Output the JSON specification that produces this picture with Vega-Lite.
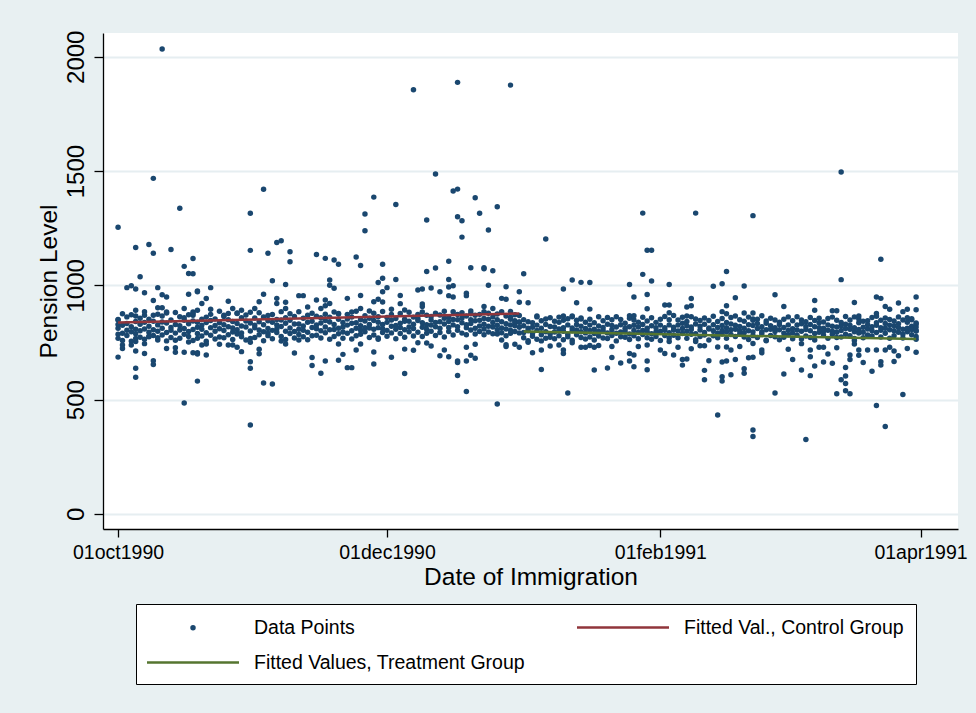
{
"$schema": "https://vega.github.io/schema/vega-lite/v6.json",
"width": 855, "height": 496,
"autosize": {"type": "none"},
"padding": {"left": 103, "top": 33, "right": 18, "bottom": 184},
"background": "#E8F0F2",
"title": {"text": "A. Natural Experiment B", "font": "Liberation Serif", "fontSize": 30, "fontWeight": "bold", "color": "black", "anchor": "middle", "baseline": "bottom", "offset": 23.5, "dx": -37},
"config": {
  "font": "Liberation Sans",
  "view": {"fill": "white", "stroke": null},
  "axis": {"domainColor": "black", "tickColor": "black", "labelColor": "black", "titleColor": "black", "titleFontWeight": "normal", "labelFont": "Liberation Sans", "titleFont": "Liberation Sans", "domainWidth": 1.3, "tickWidth": 1.3}
},
"datasets": {
"fit": [
{"s":"Fitted Val., Control Group","d":"1990-10-01","p":837},
{"s":"Fitted Val., Control Group","d":"1990-12-31","p":877},
{"s":"Fitted Values, Treatment Group","d":"1991-01-01","p":798},
{"s":"Fitted Values, Treatment Group","d":"1991-03-31","p":765}
],
"pts": [
{"d":"1990-10-01","p":812},{"d":"1990-10-01","p":768},{"d":"1990-10-01","p":851},{"d":"1990-10-01","p":829},{"d":"1990-10-01","p":1254},{"d":"1990-10-01","p":848},{"d":"1990-10-01","p":786},{"d":"1990-10-01","p":686},
{"d":"1990-10-02","p":790},{"d":"1990-10-02","p":876},{"d":"1990-10-02","p":825},{"d":"1990-10-02","p":759},{"d":"1990-10-02","p":739},{"d":"1990-10-02","p":724},
{"d":"1990-10-03","p":833},{"d":"1990-10-03","p":804},{"d":"1990-10-03","p":781},{"d":"1990-10-03","p":862},{"d":"1990-10-03","p":990},
{"d":"1990-10-04","p":756},{"d":"1990-10-04","p":819},{"d":"1990-10-04","p":871},{"d":"1990-10-04","p":797},{"d":"1990-10-04","p":998},{"d":"1990-10-04","p":739},
{"d":"1990-10-05","p":842},{"d":"1990-10-05","p":788},{"d":"1990-10-05","p":808},{"d":"1990-10-05","p":866},{"d":"1990-10-05","p":1166},{"d":"1990-10-05","p":984},{"d":"1990-10-05","p":891},{"d":"1990-10-05","p":768},{"d":"1990-10-05","p":754},{"d":"1990-10-05","p":713},{"d":"1990-10-05","p":637},{"d":"1990-10-05","p":598},
{"d":"1990-10-06","p":773},{"d":"1990-10-06","p":830},{"d":"1990-10-06","p":856},{"d":"1990-10-06","p":801},{"d":"1990-10-06","p":1038},
{"d":"1990-10-07","p":809},{"d":"1990-10-07","p":884},{"d":"1990-10-07","p":764},{"d":"1990-10-07","p":838},{"d":"1990-10-07","p":968},{"d":"1990-10-07","p":869},{"d":"1990-10-07","p":745},{"d":"1990-10-07","p":702},
{"d":"1990-10-08","p":852},{"d":"1990-10-08","p":795},{"d":"1990-10-08","p":821},{"d":"1990-10-08","p":777},{"d":"1990-10-08","p":1179},{"d":"1990-10-08","p":775},
{"d":"1990-10-09","p":781},{"d":"1990-10-09","p":843},{"d":"1990-10-09","p":869},{"d":"1990-10-09","p":806},{"d":"1990-10-09","p":1468},{"d":"1990-10-09","p":1140},{"d":"1990-10-09","p":934},{"d":"1990-10-09","p":670},{"d":"1990-10-09","p":654},
{"d":"1990-10-10","p":827},{"d":"1990-10-10","p":761},{"d":"1990-10-10","p":799},{"d":"1990-10-10","p":874},{"d":"1990-10-10","p":990},{"d":"1990-10-10","p":902},{"d":"1990-10-10","p":771},
{"d":"1990-10-11","p":866},{"d":"1990-10-11","p":812},{"d":"1990-10-11","p":783},{"d":"1990-10-11","p":840},{"d":"1990-10-11","p":2034},{"d":"1990-10-11","p":959},{"d":"1990-10-11","p":902},
{"d":"1990-10-12","p":794},{"d":"1990-10-12","p":835},{"d":"1990-10-12","p":757},{"d":"1990-10-12","p":879},{"d":"1990-10-12","p":949},{"d":"1990-10-12","p":883},{"d":"1990-10-12","p":724},
{"d":"1990-10-13","p":848},{"d":"1990-10-13","p":772},{"d":"1990-10-13","p":816},{"d":"1990-10-13","p":803},{"d":"1990-10-13","p":1157},
{"d":"1990-10-14","p":760},{"d":"1990-10-14","p":881},{"d":"1990-10-14","p":829},{"d":"1990-10-14","p":791},{"d":"1990-10-14","p":727},{"d":"1990-10-14","p":707},
{"d":"1990-10-15","p":823},{"d":"1990-10-15","p":805},{"d":"1990-10-15","p":863},{"d":"1990-10-15","p":769},{"d":"1990-10-15","p":1337},
{"d":"1990-10-16","p":786},{"d":"1990-10-16","p":847},{"d":"1990-10-16","p":811},{"d":"1990-10-16","p":858},{"d":"1990-10-16","p":1083},{"d":"1990-10-16","p":899},{"d":"1990-10-16","p":707},{"d":"1990-10-16","p":485},
{"d":"1990-10-17","p":871},{"d":"1990-10-17","p":798},{"d":"1990-10-17","p":776},{"d":"1990-10-17","p":832},{"d":"1990-10-17","p":1052},{"d":"1990-10-17","p":961},{"d":"1990-10-17","p":752},
{"d":"1990-10-18","p":807},{"d":"1990-10-18","p":759},{"d":"1990-10-18","p":844},{"d":"1990-10-18","p":883},{"d":"1990-10-18","p":1051},{"d":"1990-10-18","p":1117},{"d":"1990-10-18","p":869},{"d":"1990-10-18","p":877},{"d":"1990-10-18","p":705},
{"d":"1990-10-19","p":839},{"d":"1990-10-19","p":817},{"d":"1990-10-19","p":789},{"d":"1990-10-19","p":768},{"d":"1990-10-19","p":972},{"d":"1990-10-19","p":975},{"d":"1990-10-19","p":891},{"d":"1990-10-19","p":705},{"d":"1990-10-19","p":700},{"d":"1990-10-19","p":581},
{"d":"1990-10-20","p":778},{"d":"1990-10-20","p":852},{"d":"1990-10-20","p":826},{"d":"1990-10-20","p":808},{"d":"1990-10-20","p":921},{"d":"1990-10-20","p":739},
{"d":"1990-10-21","p":861},{"d":"1990-10-21","p":793},{"d":"1990-10-21","p":837},{"d":"1990-10-21","p":755},{"d":"1990-10-21","p":942},{"d":"1990-10-21","p":695},{"d":"1990-10-21","p":743},
{"d":"1990-10-22","p":815},{"d":"1990-10-22","p":873},{"d":"1990-10-22","p":782},{"d":"1990-10-22","p":846},{"d":"1990-10-22","p":990},{"d":"1990-10-22","p":895},
{"d":"1990-10-23","p":799},{"d":"1990-10-23","p":765},{"d":"1990-10-23","p":853},{"d":"1990-10-23","p":824},
{"d":"1990-10-24","p":836},{"d":"1990-10-24","p":887},{"d":"1990-10-24","p":810},{"d":"1990-10-24","p":774},{"d":"1990-10-24","p":742},
{"d":"1990-10-25","p":771},{"d":"1990-10-25","p":828},{"d":"1990-10-25","p":802},{"d":"1990-10-25","p":864},{"d":"1990-10-25","p":869},
{"d":"1990-10-26","p":850},{"d":"1990-10-26","p":784},{"d":"1990-10-26","p":819},{"d":"1990-10-26","p":877},{"d":"1990-10-26","p":930},{"d":"1990-10-26","p":739},
{"d":"1990-10-27","p":813},{"d":"1990-10-27","p":842},{"d":"1990-10-27","p":763},{"d":"1990-10-27","p":796},{"d":"1990-10-27","p":899},{"d":"1990-10-27","p":739},
{"d":"1990-10-28","p":879},{"d":"1990-10-28","p":806},{"d":"1990-10-28","p":833},{"d":"1990-10-28","p":787},{"d":"1990-10-28","p":877},{"d":"1990-10-28","p":729},
{"d":"1990-10-29","p":792},{"d":"1990-10-29","p":858},{"d":"1990-10-29","p":775},{"d":"1990-10-29","p":822},{"d":"1990-10-29","p":891},{"d":"1990-10-29","p":710},
{"d":"1990-10-30","p":844},{"d":"1990-10-30","p":818},{"d":"1990-10-30","p":870},{"d":"1990-10-30","p":761},
{"d":"1990-10-31","p":767},{"d":"1990-10-31","p":835},{"d":"1990-10-31","p":800},{"d":"1990-10-31","p":882},{"d":"1990-10-31","p":1315},{"d":"1990-10-31","p":1153},{"d":"1990-10-31","p":751},{"d":"1990-10-31","p":666},{"d":"1990-10-31","p":637},{"d":"1990-10-31","p":389},
{"d":"1990-11-01","p":826},{"d":"1990-11-01","p":772},{"d":"1990-11-01","p":857},{"d":"1990-11-01","p":814},{"d":"1990-11-01","p":899},
{"d":"1990-11-02","p":805},{"d":"1990-11-02","p":880},{"d":"1990-11-02","p":784},{"d":"1990-11-02","p":841},{"d":"1990-11-02","p":928},{"d":"1990-11-02","p":720},{"d":"1990-11-02","p":701},
{"d":"1990-11-03","p":862},{"d":"1990-11-03","p":797},{"d":"1990-11-03","p":828},{"d":"1990-11-03","p":758},{"d":"1990-11-03","p":1420},{"d":"1990-11-03","p":961},{"d":"1990-11-03","p":573},
{"d":"1990-11-04","p":780},{"d":"1990-11-04","p":845},{"d":"1990-11-04","p":811},{"d":"1990-11-04","p":868},{"d":"1990-11-04","p":1140},{"d":"1990-11-04","p":790},
{"d":"1990-11-05","p":838},{"d":"1990-11-05","p":766},{"d":"1990-11-05","p":872},{"d":"1990-11-05","p":803},{"d":"1990-11-05","p":1020},{"d":"1990-11-05","p":568},
{"d":"1990-11-06","p":809},{"d":"1990-11-06","p":851},{"d":"1990-11-06","p":794},{"d":"1990-11-06","p":827},{"d":"1990-11-06","p":1187},{"d":"1990-11-06","p":943},{"d":"1990-11-06","p":921},
{"d":"1990-11-07","p":885},{"d":"1990-11-07","p":820},{"d":"1990-11-07","p":776},{"d":"1990-11-07","p":848},{"d":"1990-11-07","p":1195},{"d":"1990-11-07","p":756},
{"d":"1990-11-08","p":763},{"d":"1990-11-08","p":834},{"d":"1990-11-08","p":858},{"d":"1990-11-08","p":799},{"d":"1990-11-08","p":1004},{"d":"1990-11-08","p":926},{"d":"1990-11-08","p":899},{"d":"1990-11-08","p":743},
{"d":"1990-11-09","p":847},{"d":"1990-11-09","p":789},{"d":"1990-11-09","p":813},{"d":"1990-11-09","p":876},{"d":"1990-11-09","p":1147},{"d":"1990-11-09","p":1103},
{"d":"1990-11-10","p":798},{"d":"1990-11-10","p":864},{"d":"1990-11-10","p":770},{"d":"1990-11-10","p":831},{"d":"1990-11-10","p":704},
{"d":"1990-11-11","p":831},{"d":"1990-11-11","p":808},{"d":"1990-11-11","p":884},{"d":"1990-11-11","p":785},{"d":"1990-11-11","p":955},{"d":"1990-11-11","p":761},
{"d":"1990-11-12","p":775},{"d":"1990-11-12","p":856},{"d":"1990-11-12","p":822},{"d":"1990-11-12","p":804},{"d":"1990-11-12","p":955},
{"d":"1990-11-13","p":869},{"d":"1990-11-13","p":795},{"d":"1990-11-13","p":839},{"d":"1990-11-13","p":762},{"d":"1990-11-13","p":905},
{"d":"1990-11-14","p":816},{"d":"1990-11-14","p":843},{"d":"1990-11-14","p":779},{"d":"1990-11-14","p":878},{"d":"1990-11-14","p":684},{"d":"1990-11-14","p":649},
{"d":"1990-11-15","p":782},{"d":"1990-11-15","p":827},{"d":"1990-11-15","p":865},{"d":"1990-11-15","p":810},{"d":"1990-11-15","p":1135},{"d":"1990-11-15","p":936},
{"d":"1990-11-16","p":858},{"d":"1990-11-16","p":801},{"d":"1990-11-16","p":770},{"d":"1990-11-16","p":835},{"d":"1990-11-16","p":899},{"d":"1990-11-16","p":615},
{"d":"1990-11-17","p":793},{"d":"1990-11-17","p":874},{"d":"1990-11-17","p":846},{"d":"1990-11-17","p":818},{"d":"1990-11-17","p":1118},{"d":"1990-11-17","p":936},{"d":"1990-11-17","p":911},{"d":"1990-11-17","p":669},
{"d":"1990-11-18","p":840},{"d":"1990-11-18","p":764},{"d":"1990-11-18","p":806},{"d":"1990-11-18","p":861},{"d":"1990-11-18","p":1023},{"d":"1990-11-18","p":1000},{"d":"1990-11-18","p":921},
{"d":"1990-11-19","p":807},{"d":"1990-11-19","p":883},{"d":"1990-11-19","p":829},{"d":"1990-11-19","p":776},{"d":"1990-11-19","p":1111},{"d":"1990-11-19","p":987},
{"d":"1990-11-20","p":875},{"d":"1990-11-20","p":812},{"d":"1990-11-20","p":788},{"d":"1990-11-20","p":852},{"d":"1990-11-20","p":1092},{"d":"1990-11-20","p":877},{"d":"1990-11-20","p":672},{"d":"1990-11-20","p":743},
{"d":"1990-11-21","p":769},{"d":"1990-11-21","p":837},{"d":"1990-11-21","p":818},{"d":"1990-11-21","p":796},{"d":"1990-11-21","p":698},
{"d":"1990-11-22","p":853},{"d":"1990-11-22","p":790},{"d":"1990-11-22","p":873},{"d":"1990-11-22","p":826},{"d":"1990-11-22","p":943},{"d":"1990-11-22","p":640},
{"d":"1990-11-23","p":801},{"d":"1990-11-23","p":861},{"d":"1990-11-23","p":834},{"d":"1990-11-23","p":765},{"d":"1990-11-23","p":883},{"d":"1990-11-23","p":640},
{"d":"1990-11-24","p":836},{"d":"1990-11-24","p":779},{"d":"1990-11-24","p":812},{"d":"1990-11-24","p":887},{"d":"1990-11-24","p":1124},{"d":"1990-11-24","p":717},
{"d":"1990-11-25","p":786},{"d":"1990-11-25","p":849},{"d":"1990-11-25","p":823},{"d":"1990-11-25","p":805},{"d":"1990-11-25","p":1087},{"d":"1990-11-25","p":956},{"d":"1990-11-25","p":899},{"d":"1990-11-25","p":743},
{"d":"1990-11-26","p":867},{"d":"1990-11-26","p":815},{"d":"1990-11-26","p":797},{"d":"1990-11-26","p":844},{"d":"1990-11-26","p":1312},{"d":"1990-11-26","p":1239},
{"d":"1990-11-27","p":813},{"d":"1990-11-27","p":772},{"d":"1990-11-27","p":856},{"d":"1990-11-27","p":829},{"d":"1990-11-27","p":888},
{"d":"1990-11-28","p":846},{"d":"1990-11-28","p":808},{"d":"1990-11-28","p":878},{"d":"1990-11-28","p":783},{"d":"1990-11-28","p":1386},{"d":"1990-11-28","p":928},{"d":"1990-11-28","p":708},{"d":"1990-11-28","p":656},
{"d":"1990-11-29","p":770},{"d":"1990-11-29","p":839},{"d":"1990-11-29","p":815},{"d":"1990-11-29","p":863},{"d":"1990-11-29","p":1012},{"d":"1990-11-29","p":939},{"d":"1990-11-29","p":764},
{"d":"1990-11-30","p":829},{"d":"1990-11-30","p":886},{"d":"1990-11-30","p":794},{"d":"1990-11-30","p":810},{"d":"1990-11-30","p":1092},{"d":"1990-11-30","p":1031},{"d":"1990-11-30","p":927},{"d":"1990-11-30","p":972},
{"d":"1990-12-01","p":859},{"d":"1990-12-01","p":803},{"d":"1990-12-01","p":838},{"d":"1990-12-01","p":777},{"d":"1990-12-01","p":990},
{"d":"1990-12-02","p":792},{"d":"1990-12-02","p":872},{"d":"1990-12-02","p":821},{"d":"1990-12-02","p":848},{"d":"1990-12-02","p":895},{"d":"1990-12-02","p":685},
{"d":"1990-12-03","p":824},{"d":"1990-12-03","p":766},{"d":"1990-12-03","p":855},{"d":"1990-12-03","p":808},{"d":"1990-12-03","p":1354},{"d":"1990-12-03","p":1026},
{"d":"1990-12-04","p":877},{"d":"1990-12-04","p":834},{"d":"1990-12-04","p":789},{"d":"1990-12-04","p":816},{"d":"1990-12-04","p":956},{"d":"1990-12-04","p":920},
{"d":"1990-12-05","p":806},{"d":"1990-12-05","p":852},{"d":"1990-12-05","p":773},{"d":"1990-12-05","p":843},{"d":"1990-12-05","p":892},{"d":"1990-12-05","p":721},{"d":"1990-12-05","p":614},
{"d":"1990-12-06","p":843},{"d":"1990-12-06","p":818},{"d":"1990-12-06","p":882},{"d":"1990-12-06","p":797},
{"d":"1990-12-07","p":778},{"d":"1990-12-07","p":861},{"d":"1990-12-07","p":830},{"d":"1990-12-07","p":811},{"d":"1990-12-07","p":1856},{"d":"1990-12-07","p":716},
{"d":"1990-12-08","p":855},{"d":"1990-12-08","p":795},{"d":"1990-12-08","p":846},{"d":"1990-12-08","p":873},{"d":"1990-12-08","p":980},{"d":"1990-12-08","p":749},
{"d":"1990-12-09","p":817},{"d":"1990-12-09","p":883},{"d":"1990-12-09","p":776},{"d":"1990-12-09","p":836},{"d":"1990-12-09","p":984},{"d":"1990-12-09","p":918},{"d":"1990-12-09","p":907},
{"d":"1990-12-10","p":869},{"d":"1990-12-10","p":828},{"d":"1990-12-10","p":808},{"d":"1990-12-10","p":790},{"d":"1990-12-10","p":1286},{"d":"1990-12-10","p":1061},{"d":"1990-12-10","p":748},
{"d":"1990-12-11","p":799},{"d":"1990-12-11","p":848},{"d":"1990-12-11","p":864},{"d":"1990-12-11","p":826},{"d":"1990-12-11","p":988},{"d":"1990-12-11","p":735},
{"d":"1990-12-12","p":838},{"d":"1990-12-12","p":781},{"d":"1990-12-12","p":819},{"d":"1990-12-12","p":878},{"d":"1990-12-12","p":1487},{"d":"1990-12-12","p":1076},
{"d":"1990-12-13","p":812},{"d":"1990-12-13","p":870},{"d":"1990-12-13","p":841},{"d":"1990-12-13","p":794},{"d":"1990-12-13","p":972},{"d":"1990-12-13","p":692},
{"d":"1990-12-14","p":774},{"d":"1990-12-14","p":831},{"d":"1990-12-14","p":856},{"d":"1990-12-14","p":887},{"d":"1990-12-14","p":717},
{"d":"1990-12-15","p":860},{"d":"1990-12-15","p":816},{"d":"1990-12-15","p":798},{"d":"1990-12-15","p":842},{"d":"1990-12-15","p":1105},{"d":"1990-12-15","p":1026},{"d":"1990-12-15","p":993},{"d":"1990-12-15","p":955},{"d":"1990-12-15","p":688},
{"d":"1990-12-16","p":827},{"d":"1990-12-16","p":885},{"d":"1990-12-16","p":783},{"d":"1990-12-16","p":851},{"d":"1990-12-16","p":1413},{"d":"1990-12-16","p":998},{"d":"1990-12-16","p":949},
{"d":"1990-12-17","p":803},{"d":"1990-12-17","p":849},{"d":"1990-12-17","p":872},{"d":"1990-12-17","p":819},{"d":"1990-12-17","p":1888},{"d":"1990-12-17","p":1421},{"d":"1990-12-17","p":1300},{"d":"1990-12-17","p":669},{"d":"1990-12-17","p":662},{"d":"1990-12-17","p":606},
{"d":"1990-12-18","p":880},{"d":"1990-12-18","p":836},{"d":"1990-12-18","p":791},{"d":"1990-12-18","p":857},{"d":"1990-12-18","p":1283},{"d":"1990-12-18","p":1211},
{"d":"1990-12-19","p":815},{"d":"1990-12-19","p":866},{"d":"1990-12-19","p":828},{"d":"1990-12-19","p":784},{"d":"1990-12-19","p":965},{"d":"1990-12-19","p":955},{"d":"1990-12-19","p":729},{"d":"1990-12-19","p":669},{"d":"1990-12-19","p":536},
{"d":"1990-12-20","p":849},{"d":"1990-12-20","p":805},{"d":"1990-12-20","p":876},{"d":"1990-12-20","p":833},{"d":"1990-12-20","p":1077},{"d":"1990-12-20","p":888},{"d":"1990-12-20","p":694},
{"d":"1990-12-21","p":787},{"d":"1990-12-21","p":845},{"d":"1990-12-21","p":812},{"d":"1990-12-21","p":869},{"d":"1990-12-21","p":1383},{"d":"1990-12-21","p":742},{"d":"1990-12-21","p":681},
{"d":"1990-12-22","p":873},{"d":"1990-12-22","p":822},{"d":"1990-12-22","p":847},{"d":"1990-12-22","p":798},{"d":"1990-12-22","p":1315},
{"d":"1990-12-23","p":830},{"d":"1990-12-23","p":884},{"d":"1990-12-23","p":809},{"d":"1990-12-23","p":855},{"d":"1990-12-23","p":1077},{"d":"1990-12-23","p":1073},{"d":"1990-12-23","p":907},{"d":"1990-12-23","p":784},
{"d":"1990-12-24","p":796},{"d":"1990-12-24","p":852},{"d":"1990-12-24","p":878},{"d":"1990-12-24","p":821},{"d":"1990-12-24","p":1242},{"d":"1990-12-24","p":1000},
{"d":"1990-12-25","p":862},{"d":"1990-12-25","p":818},{"d":"1990-12-25","p":837},{"d":"1990-12-25","p":788},{"d":"1990-12-25","p":1064},{"d":"1990-12-25","p":899},
{"d":"1990-12-26","p":825},{"d":"1990-12-26","p":875},{"d":"1990-12-26","p":806},{"d":"1990-12-26","p":850},{"d":"1990-12-26","p":1344},{"d":"1990-12-26","p":787},{"d":"1990-12-26","p":481},
{"d":"1990-12-27","p":884},{"d":"1990-12-27","p":841},{"d":"1990-12-27","p":813},{"d":"1990-12-27","p":793},{"d":"1990-12-27","p":943},{"d":"1990-12-27","p":761},
{"d":"1990-12-28","p":809},{"d":"1990-12-28","p":866},{"d":"1990-12-28","p":832},{"d":"1990-12-28","p":779},{"d":"1990-12-28","p":994},{"d":"1990-12-28","p":939},{"d":"1990-12-28","p":740},{"d":"1990-12-28","p":732},
{"d":"1990-12-29","p":852},{"d":"1990-12-29","p":827},{"d":"1990-12-29","p":886},{"d":"1990-12-29","p":804},{"d":"1990-12-29","p":1876},{"d":"1990-12-29","p":860},{"d":"1990-12-29","p":790},
{"d":"1990-12-30","p":798},{"d":"1990-12-30","p":845},{"d":"1990-12-30","p":871},{"d":"1990-12-30","p":823},{"d":"1990-12-30","p":838},{"d":"1990-12-30","p":742},
{"d":"1990-12-31","p":868},{"d":"1990-12-31","p":817},{"d":"1990-12-31","p":839},{"d":"1990-12-31","p":792},{"d":"1990-12-31","p":972},{"d":"1990-12-31","p":926},{"d":"1990-12-31","p":840},{"d":"1990-12-31","p":729},
{"d":"1991-01-01","p":794},{"d":"1991-01-01","p":771},{"d":"1991-01-01","p":823},{"d":"1991-01-01","p":849},{"d":"1991-01-01","p":1051},
{"d":"1991-01-02","p":812},{"d":"1991-01-02","p":758},{"d":"1991-01-02","p":801},{"d":"1991-01-02","p":841},{"d":"1991-01-02","p":924},{"d":"1991-01-02","p":751},
{"d":"1991-01-03","p":777},{"d":"1991-01-03","p":836},{"d":"1991-01-03","p":817},{"d":"1991-01-03","p":790},{"d":"1991-01-03","p":705},
{"d":"1991-01-04","p":803},{"d":"1991-01-04","p":862},{"d":"1991-01-04","p":764},{"d":"1991-01-04","p":826},{"d":"1991-01-04","p":866},
{"d":"1991-01-05","p":845},{"d":"1991-01-05","p":784},{"d":"1991-01-05","p":812},{"d":"1991-01-05","p":757},{"d":"1991-01-05","p":717},{"d":"1991-01-05","p":632},
{"d":"1991-01-06","p":769},{"d":"1991-01-06","p":829},{"d":"1991-01-06","p":797},{"d":"1991-01-06","p":853},{"d":"1991-01-06","p":1203},
{"d":"1991-01-07","p":820},{"d":"1991-01-07","p":788},{"d":"1991-01-07","p":858},{"d":"1991-01-07","p":773},{"d":"1991-01-07","p":735},
{"d":"1991-01-08","p":796},{"d":"1991-01-08","p":843},{"d":"1991-01-08","p":766},{"d":"1991-01-08","p":818},
{"d":"1991-01-09","p":838},{"d":"1991-01-09","p":809},{"d":"1991-01-09","p":779},{"d":"1991-01-09","p":861},{"d":"1991-01-09","p":739},
{"d":"1991-01-10","p":762},{"d":"1991-01-10","p":815},{"d":"1991-01-10","p":799},{"d":"1991-01-10","p":847},{"d":"1991-01-10","p":984},{"d":"1991-01-10","p":866},{"d":"1991-01-10","p":717},{"d":"1991-01-10","p":702},
{"d":"1991-01-11","p":827},{"d":"1991-01-11","p":786},{"d":"1991-01-11","p":854},{"d":"1991-01-11","p":775},{"d":"1991-01-11","p":529},
{"d":"1991-01-12","p":801},{"d":"1991-01-12","p":866},{"d":"1991-01-12","p":813},{"d":"1991-01-12","p":760},{"d":"1991-01-12","p":1023},{"d":"1991-01-12","p":863},{"d":"1991-01-12","p":749},
{"d":"1991-01-13","p":784},{"d":"1991-01-13","p":829},{"d":"1991-01-13","p":847},{"d":"1991-01-13","p":805},{"d":"1991-01-13","p":924},
{"d":"1991-01-14","p":857},{"d":"1991-01-14","p":797},{"d":"1991-01-14","p":772},{"d":"1991-01-14","p":821},{"d":"1991-01-14","p":1013},{"d":"1991-01-14","p":853},{"d":"1991-01-14","p":729},
{"d":"1991-01-15","p":811},{"d":"1991-01-15","p":839},{"d":"1991-01-15","p":765},{"d":"1991-01-15","p":792},{"d":"1991-01-15","p":729},
{"d":"1991-01-16","p":774},{"d":"1991-01-16","p":852},{"d":"1991-01-16","p":826},{"d":"1991-01-16","p":803},{"d":"1991-01-16","p":1012},{"d":"1991-01-16","p":896},{"d":"1991-01-16","p":737},
{"d":"1991-01-17","p":836},{"d":"1991-01-17","p":761},{"d":"1991-01-17","p":808},{"d":"1991-01-17","p":789},{"d":"1991-01-17","p":729},{"d":"1991-01-17","p":630},
{"d":"1991-01-18","p":798},{"d":"1991-01-18","p":822},{"d":"1991-01-18","p":863},{"d":"1991-01-18","p":778},{"d":"1991-01-18","p":737},
{"d":"1991-01-19","p":845},{"d":"1991-01-19","p":804},{"d":"1991-01-19","p":770},{"d":"1991-01-19","p":816},
{"d":"1991-01-20","p":767},{"d":"1991-01-20","p":830},{"d":"1991-01-20","p":792},{"d":"1991-01-20","p":859},{"d":"1991-01-20","p":638},
{"d":"1991-01-21","p":824},{"d":"1991-01-21","p":781},{"d":"1991-01-21","p":849},{"d":"1991-01-21","p":806},{"d":"1991-01-21","p":684},{"d":"1991-01-21","p":732},
{"d":"1991-01-22","p":790},{"d":"1991-01-22","p":863},{"d":"1991-01-22","p":818},{"d":"1991-01-22","p":757},
{"d":"1991-01-23","p":851},{"d":"1991-01-23","p":796},{"d":"1991-01-23","p":775},{"d":"1991-01-23","p":828},{"d":"1991-01-23","p":660},
{"d":"1991-01-24","p":773},{"d":"1991-01-24","p":834},{"d":"1991-01-24","p":812},{"d":"1991-01-24","p":800},
{"d":"1991-01-25","p":819},{"d":"1991-01-25","p":787},{"d":"1991-01-25","p":856},{"d":"1991-01-25","p":763},{"d":"1991-01-25","p":1004},{"d":"1991-01-25","p":867},{"d":"1991-01-25","p":702},{"d":"1991-01-25","p":669},
{"d":"1991-01-26","p":802},{"d":"1991-01-26","p":848},{"d":"1991-01-26","p":779},{"d":"1991-01-26","p":825},{"d":"1991-01-26","p":949},{"d":"1991-01-26","p":867},{"d":"1991-01-26","p":695},{"d":"1991-01-26","p":644},
{"d":"1991-01-27","p":839},{"d":"1991-01-27","p":766},{"d":"1991-01-27","p":818},{"d":"1991-01-27","p":794},{"d":"1991-01-27","p":732},
{"d":"1991-01-28","p":785},{"d":"1991-01-28","p":860},{"d":"1991-01-28","p":803},{"d":"1991-01-28","p":829},{"d":"1991-01-28","p":1316},{"d":"1991-01-28","p":1048},
{"d":"1991-01-29","p":812},{"d":"1991-01-29","p":771},{"d":"1991-01-29","p":844},{"d":"1991-01-29","p":797},{"d":"1991-01-29","p":1154},{"d":"1991-01-29","p":960},{"d":"1991-01-29","p":898},{"d":"1991-01-29","p":739},{"d":"1991-01-29","p":669},{"d":"1991-01-29","p":631},
{"d":"1991-01-30","p":858},{"d":"1991-01-30","p":823},{"d":"1991-01-30","p":788},{"d":"1991-01-30","p":764},{"d":"1991-01-30","p":1154},{"d":"1991-01-30","p":1019},
{"d":"1991-01-31","p":796},{"d":"1991-01-31","p":838},{"d":"1991-01-31","p":815},{"d":"1991-01-31","p":776},
{"d":"1991-02-01","p":826},{"d":"1991-02-01","p":759},{"d":"1991-02-01","p":799},{"d":"1991-02-01","p":852},{"d":"1991-02-01","p":717},
{"d":"1991-02-02","p":781},{"d":"1991-02-02","p":815},{"d":"1991-02-02","p":864},{"d":"1991-02-02","p":804},{"d":"1991-02-02","p":914},{"d":"1991-02-02","p":702},
{"d":"1991-02-03","p":849},{"d":"1991-02-03","p":793},{"d":"1991-02-03","p":827},{"d":"1991-02-03","p":770},{"d":"1991-02-03","p":1004},{"d":"1991-02-03","p":914},{"d":"1991-02-03","p":880},{"d":"1991-02-03","p":754},
{"d":"1991-02-04","p":805},{"d":"1991-02-04","p":868},{"d":"1991-02-04","p":782},{"d":"1991-02-04","p":817},{"d":"1991-02-04","p":695},
{"d":"1991-02-05","p":771},{"d":"1991-02-05","p":826},{"d":"1991-02-05","p":848},{"d":"1991-02-05","p":800},{"d":"1991-02-05","p":729},
{"d":"1991-02-06","p":834},{"d":"1991-02-06","p":789},{"d":"1991-02-06","p":811},{"d":"1991-02-06","p":860},{"d":"1991-02-06","p":676},{"d":"1991-02-06","p":651},
{"d":"1991-02-07","p":799},{"d":"1991-02-07","p":842},{"d":"1991-02-07","p":768},{"d":"1991-02-07","p":823},{"d":"1991-02-07","p":905},{"d":"1991-02-07","p":866},{"d":"1991-02-07","p":678},
{"d":"1991-02-08","p":863},{"d":"1991-02-08","p":807},{"d":"1991-02-08","p":786},{"d":"1991-02-08","p":818},{"d":"1991-02-08","p":942},{"d":"1991-02-08","p":911},{"d":"1991-02-08","p":723},
{"d":"1991-02-09","p":788},{"d":"1991-02-09","p":831},{"d":"1991-02-09","p":853},{"d":"1991-02-09","p":762},{"d":"1991-02-09","p":1316},{"d":"1991-02-09","p":754},
{"d":"1991-02-10","p":821},{"d":"1991-02-10","p":776},{"d":"1991-02-10","p":805},{"d":"1991-02-10","p":846},{"d":"1991-02-10","p":736},
{"d":"1991-02-11","p":794},{"d":"1991-02-11","p":857},{"d":"1991-02-11","p":830},{"d":"1991-02-11","p":783},{"d":"1991-02-11","p":736},{"d":"1991-02-11","p":628},{"d":"1991-02-11","p":587},
{"d":"1991-02-12","p":846},{"d":"1991-02-12","p":813},{"d":"1991-02-12","p":761},{"d":"1991-02-12","p":809},{"d":"1991-02-12","p":670},
{"d":"1991-02-13","p":779},{"d":"1991-02-13","p":828},{"d":"1991-02-13","p":801},{"d":"1991-02-13","p":865},{"d":"1991-02-13","p":996},
{"d":"1991-02-14","p":816},{"d":"1991-02-14","p":792},{"d":"1991-02-14","p":842},{"d":"1991-02-14","p":771},{"d":"1991-02-14","p":730},{"d":"1991-02-14","p":433},
{"d":"1991-02-15","p":855},{"d":"1991-02-15","p":803},{"d":"1991-02-15","p":824},{"d":"1991-02-15","p":787},{"d":"1991-02-15","p":1007},{"d":"1991-02-15","p":885},{"d":"1991-02-15","p":665},{"d":"1991-02-15","p":600},{"d":"1991-02-15","p":581},
{"d":"1991-02-16","p":768},{"d":"1991-02-16","p":837},{"d":"1991-02-16","p":814},{"d":"1991-02-16","p":797},{"d":"1991-02-16","p":1061},{"d":"1991-02-16","p":911},{"d":"1991-02-16","p":876},{"d":"1991-02-16","p":669},{"d":"1991-02-16","p":730},
{"d":"1991-02-17","p":831},{"d":"1991-02-17","p":785},{"d":"1991-02-17","p":859},{"d":"1991-02-17","p":806},{"d":"1991-02-17","p":609},{"d":"1991-02-17","p":717},
{"d":"1991-02-18","p":808},{"d":"1991-02-18","p":866},{"d":"1991-02-18","p":776},{"d":"1991-02-18","p":825},{"d":"1991-02-18","p":946},{"d":"1991-02-18","p":676},
{"d":"1991-02-19","p":786},{"d":"1991-02-19","p":820},{"d":"1991-02-19","p":849},{"d":"1991-02-19","p":800},{"d":"1991-02-19","p":732},
{"d":"1991-02-20","p":843},{"d":"1991-02-20","p":774},{"d":"1991-02-20","p":812},{"d":"1991-02-20","p":793},{"d":"1991-02-20","p":997},{"d":"1991-02-20","p":879},{"d":"1991-02-20","p":635},{"d":"1991-02-20","p":615},
{"d":"1991-02-21","p":763},{"d":"1991-02-21","p":828},{"d":"1991-02-21","p":801},{"d":"1991-02-21","p":861},{"d":"1991-02-21","p":683},
{"d":"1991-02-22","p":824},{"d":"1991-02-22","p":796},{"d":"1991-02-22","p":847},{"d":"1991-02-22","p":780},{"d":"1991-02-22","p":1305},{"d":"1991-02-22","p":879},{"d":"1991-02-22","p":853},{"d":"1991-02-22","p":685},{"d":"1991-02-22","p":746},{"d":"1991-02-22","p":367},{"d":"1991-02-22","p":339},
{"d":"1991-02-23","p":852},{"d":"1991-02-23","p":811},{"d":"1991-02-23","p":772},{"d":"1991-02-23","p":833},
{"d":"1991-02-24","p":797},{"d":"1991-02-24","p":867},{"d":"1991-02-24","p":819},{"d":"1991-02-24","p":788},{"d":"1991-02-24","p":717},{"d":"1991-02-24","p":705},
{"d":"1991-02-25","p":834},{"d":"1991-02-25","p":760},{"d":"1991-02-25","p":806},{"d":"1991-02-25","p":844},{"d":"1991-02-25","p":758},
{"d":"1991-02-26","p":781},{"d":"1991-02-26","p":823},{"d":"1991-02-26","p":856},{"d":"1991-02-26","p":808},
{"d":"1991-02-27","p":848},{"d":"1991-02-27","p":798},{"d":"1991-02-27","p":775},{"d":"1991-02-27","p":815},{"d":"1991-02-27","p":959},{"d":"1991-02-27","p":529},
{"d":"1991-02-28","p":806},{"d":"1991-02-28","p":839},{"d":"1991-02-28","p":762},{"d":"1991-02-28","p":829},
{"d":"1991-03-01","p":773},{"d":"1991-03-01","p":816},{"d":"1991-03-01","p":852},{"d":"1991-03-01","p":791},{"d":"1991-03-01","p":907},{"d":"1991-03-01","p":612},
{"d":"1991-03-02","p":862},{"d":"1991-03-02","p":803},{"d":"1991-03-02","p":827},{"d":"1991-03-02","p":784},{"d":"1991-03-02","p":720},
{"d":"1991-03-03","p":792},{"d":"1991-03-03","p":845},{"d":"1991-03-03","p":810},{"d":"1991-03-03","p":766},{"d":"1991-03-03","p":676},
{"d":"1991-03-04","p":827},{"d":"1991-03-04","p":782},{"d":"1991-03-04","p":863},{"d":"1991-03-04","p":805},
{"d":"1991-03-05","p":765},{"d":"1991-03-05","p":832},{"d":"1991-03-05","p":799},{"d":"1991-03-05","p":848},{"d":"1991-03-05","p":630},{"d":"1991-03-05","p":745},
{"d":"1991-03-06","p":841},{"d":"1991-03-06","p":807},{"d":"1991-03-06","p":778},{"d":"1991-03-06","p":820},{"d":"1991-03-06","p":326},
{"d":"1991-03-07","p":801},{"d":"1991-03-07","p":859},{"d":"1991-03-07","p":829},{"d":"1991-03-07","p":772},{"d":"1991-03-07","p":717},{"d":"1991-03-07","p":688},{"d":"1991-03-07","p":605},
{"d":"1991-03-08","p":819},{"d":"1991-03-08","p":789},{"d":"1991-03-08","p":846},{"d":"1991-03-08","p":761},{"d":"1991-03-08","p":934},{"d":"1991-03-08","p":891},{"d":"1991-03-08","p":647},
{"d":"1991-03-09","p":856},{"d":"1991-03-09","p":814},{"d":"1991-03-09","p":795},{"d":"1991-03-09","p":836},{"d":"1991-03-09","p":729},
{"d":"1991-03-10","p":783},{"d":"1991-03-10","p":840},{"d":"1991-03-10","p":812},{"d":"1991-03-10","p":799},{"d":"1991-03-10","p":729},{"d":"1991-03-10","p":665},
{"d":"1991-03-11","p":827},{"d":"1991-03-11","p":768},{"d":"1991-03-11","p":855},{"d":"1991-03-11","p":804},{"d":"1991-03-11","p":700},
{"d":"1991-03-12","p":799},{"d":"1991-03-12","p":861},{"d":"1991-03-12","p":821},{"d":"1991-03-12","p":786},{"d":"1991-03-12","p":889},{"d":"1991-03-12","p":659},
{"d":"1991-03-13","p":847},{"d":"1991-03-13","p":795},{"d":"1991-03-13","p":772},{"d":"1991-03-13","p":818},{"d":"1991-03-13","p":889},{"d":"1991-03-13","p":727},{"d":"1991-03-13","p":526},
{"d":"1991-03-14","p":774},{"d":"1991-03-14","p":823},{"d":"1991-03-14","p":838},{"d":"1991-03-14","p":802},{"d":"1991-03-14","p":1496},{"d":"1991-03-14","p":1025},{"d":"1991-03-14","p":587},
{"d":"1991-03-15","p":830},{"d":"1991-03-15","p":786},{"d":"1991-03-15","p":864},{"d":"1991-03-15","p":811},{"d":"1991-03-15","p":641},{"d":"1991-03-15","p":603},{"d":"1991-03-15","p":571},{"d":"1991-03-15","p":539},
{"d":"1991-03-16","p":808},{"d":"1991-03-16","p":848},{"d":"1991-03-16","p":779},{"d":"1991-03-16","p":826},{"d":"1991-03-16","p":695},{"d":"1991-03-16","p":676},{"d":"1991-03-16","p":526},
{"d":"1991-03-17","p":862},{"d":"1991-03-17","p":815},{"d":"1991-03-17","p":797},{"d":"1991-03-17","p":768},{"d":"1991-03-17","p":925},{"d":"1991-03-17","p":759},{"d":"1991-03-17","p":743},
{"d":"1991-03-18","p":791},{"d":"1991-03-18","p":836},{"d":"1991-03-18","p":807},{"d":"1991-03-18","p":853},{"d":"1991-03-18","p":866},{"d":"1991-03-18","p":717},{"d":"1991-03-18","p":694},
{"d":"1991-03-19","p":817},{"d":"1991-03-19","p":771},{"d":"1991-03-19","p":843},{"d":"1991-03-19","p":795},{"d":"1991-03-19","p":662},
{"d":"1991-03-20","p":845},{"d":"1991-03-20","p":809},{"d":"1991-03-20","p":783},{"d":"1991-03-20","p":828},{"d":"1991-03-20","p":717},
{"d":"1991-03-21","p":778},{"d":"1991-03-21","p":859},{"d":"1991-03-21","p":819},{"d":"1991-03-21","p":801},{"d":"1991-03-21","p":624},
{"d":"1991-03-22","p":836},{"d":"1991-03-22","p":794},{"d":"1991-03-22","p":825},{"d":"1991-03-22","p":866},{"d":"1991-03-22","p":949},{"d":"1991-03-22","p":877},{"d":"1991-03-22","p":866},{"d":"1991-03-22","p":717},{"d":"1991-03-22","p":474},
{"d":"1991-03-23","p":803},{"d":"1991-03-23","p":847},{"d":"1991-03-23","p":774},{"d":"1991-03-23","p":814},{"d":"1991-03-23","p":1114},{"d":"1991-03-23","p":943},{"d":"1991-03-23","p":666},{"d":"1991-03-23","p":651},
{"d":"1991-03-24","p":857},{"d":"1991-03-24","p":812},{"d":"1991-03-24","p":790},{"d":"1991-03-24","p":833},{"d":"1991-03-24","p":907},{"d":"1991-03-24","p":717},{"d":"1991-03-24","p":382},
{"d":"1991-03-25","p":769},{"d":"1991-03-25","p":826},{"d":"1991-03-25","p":851},{"d":"1991-03-25","p":806},{"d":"1991-03-25","p":895},{"d":"1991-03-25","p":729},
{"d":"1991-03-26","p":823},{"d":"1991-03-26","p":801},{"d":"1991-03-26","p":844},{"d":"1991-03-26","p":779},{"d":"1991-03-26","p":713},{"d":"1991-03-26","p":667},
{"d":"1991-03-27","p":795},{"d":"1991-03-27","p":862},{"d":"1991-03-27","p":816},{"d":"1991-03-27","p":832},{"d":"1991-03-27","p":923},{"d":"1991-03-27","p":692},
{"d":"1991-03-28","p":848},{"d":"1991-03-28","p":786},{"d":"1991-03-28","p":808},{"d":"1991-03-28","p":770},{"d":"1991-03-28","p":885},{"d":"1991-03-28","p":522},
{"d":"1991-03-29","p":812},{"d":"1991-03-29","p":839},{"d":"1991-03-29","p":797},{"d":"1991-03-29","p":858},{"d":"1991-03-29","p":895},{"d":"1991-03-29","p":724},
{"d":"1991-03-30","p":784},{"d":"1991-03-30","p":821},{"d":"1991-03-30","p":849},{"d":"1991-03-30","p":807},{"d":"1991-03-30","p":854},
{"d":"1991-03-31","p":831},{"d":"1991-03-31","p":801},{"d":"1991-03-31","p":776},{"d":"1991-03-31","p":818},{"d":"1991-03-31","p":949},{"d":"1991-03-31","p":893},{"d":"1991-03-31","p":800},{"d":"1991-03-31","p":764},{"d":"1991-03-31","p":835},{"d":"1991-03-31","p":707}
]
},
"layer": [
{
 "data": {"name": "pts"},
 "mark": {"type": "circle", "size": 30, "opacity": 1},
 "encoding": {
  "x": {"field": "d", "type": "temporal",
   "scale": {"type": "utc", "domain": [{"year": 1990, "month": "sep", "date": 27, "hours": 14, "utc": true}, {"year": 1991, "month": "apr", "date": 9, "hours": 12, "utc": true}], "nice": false},
   "axis": {"values": [{"year": 1990, "month": "oct", "date": 1, "utc": true}, {"year": 1990, "month": "dec", "date": 1, "utc": true}, {"year": 1991, "month": "feb", "date": 1, "utc": true}, {"year": 1991, "month": "apr", "date": 1, "utc": true}],
    "labelExpr": "lower(utcFormat(datum.value, '%d%b%Y'))", "grid": false, "tickSize": 8, "labelFontSize": 19.5, "labelPadding": 6, "labelFlush": false, "labelOverlap": false,
    "title": "Date of Immigration", "titleFontSize": 24.5, "titlePadding": 4}
  },
  "y": {"field": "p", "type": "quantitative",
   "scale": {"domain": [-66, 2104], "nice": false, "zero": false},
   "axis": {"values": [0, 500, 1000, 1500, 2000], "format": "d", "grid": true, "gridColor": "#E6EEF1", "gridWidth": 2, "tickSize": 9, "labelAngle": -90, "labelAlign": "center", "labelBaseline": "alphabetic", "labelFontSize": 24, "labelPadding": 11,
    "title": "Pension Level", "titleFontSize": 24.5, "titlePadding": 3}
  },
  "color": {"datum": "Data Points", "type": "nominal",
   "scale": {"domain": ["Data Points"], "range": ["#1A476F"]},
   "legend": {"orient": "none", "legendX": 33, "legendY": 573, "title": null, "padding": 12, "fillColor": "transparent", "strokeColor": "transparent",
    "symbolType": "circle", "symbolSize": 30, "symbolStrokeWidth": 0, "symbolOffset": 35.25, "symbolOpacity": 1,
    "labelFontSize": 19.5, "labelOpacity": 0, "labelExpr": "''", "labelLimit": 400, "zindex": 2}
  }
 }
},
{
 "data": {"name": "fit"},
 "mark": {"type": "line", "strokeWidth": 2.5},
 "encoding": {
  "x": {"field": "d", "type": "temporal"},
  "y": {"field": "p", "type": "quantitative"},
  "stroke": {"field": "s", "type": "nominal",
   "scale": {"domain": ["Data Points", "Fitted Val., Control Group", "Fitted Values, Treatment Group"], "range": ["transparent", "#90353B", "#55752F"]},
   "legend": {"orient": "none", "direction": "horizontal", "legendX": 33, "legendY": 571, "title": null, "columns": 2, "columnPadding": 47, "rowPadding": 14, "padding": 12,
    "fillColor": "white", "strokeColor": "black", "labelFontSize": 19.5, "labelColor": "black", "labelFont": "Liberation Sans", "labelLimit": 400,
    "symbolType": "M-4.6,0H4.6", "symbolSize": 400, "symbolStrokeWidth": 2.5, "symbolOffset": 33.5, "labelOffset": 49.5, "zindex": 1}
  }
 }
}
]
}
